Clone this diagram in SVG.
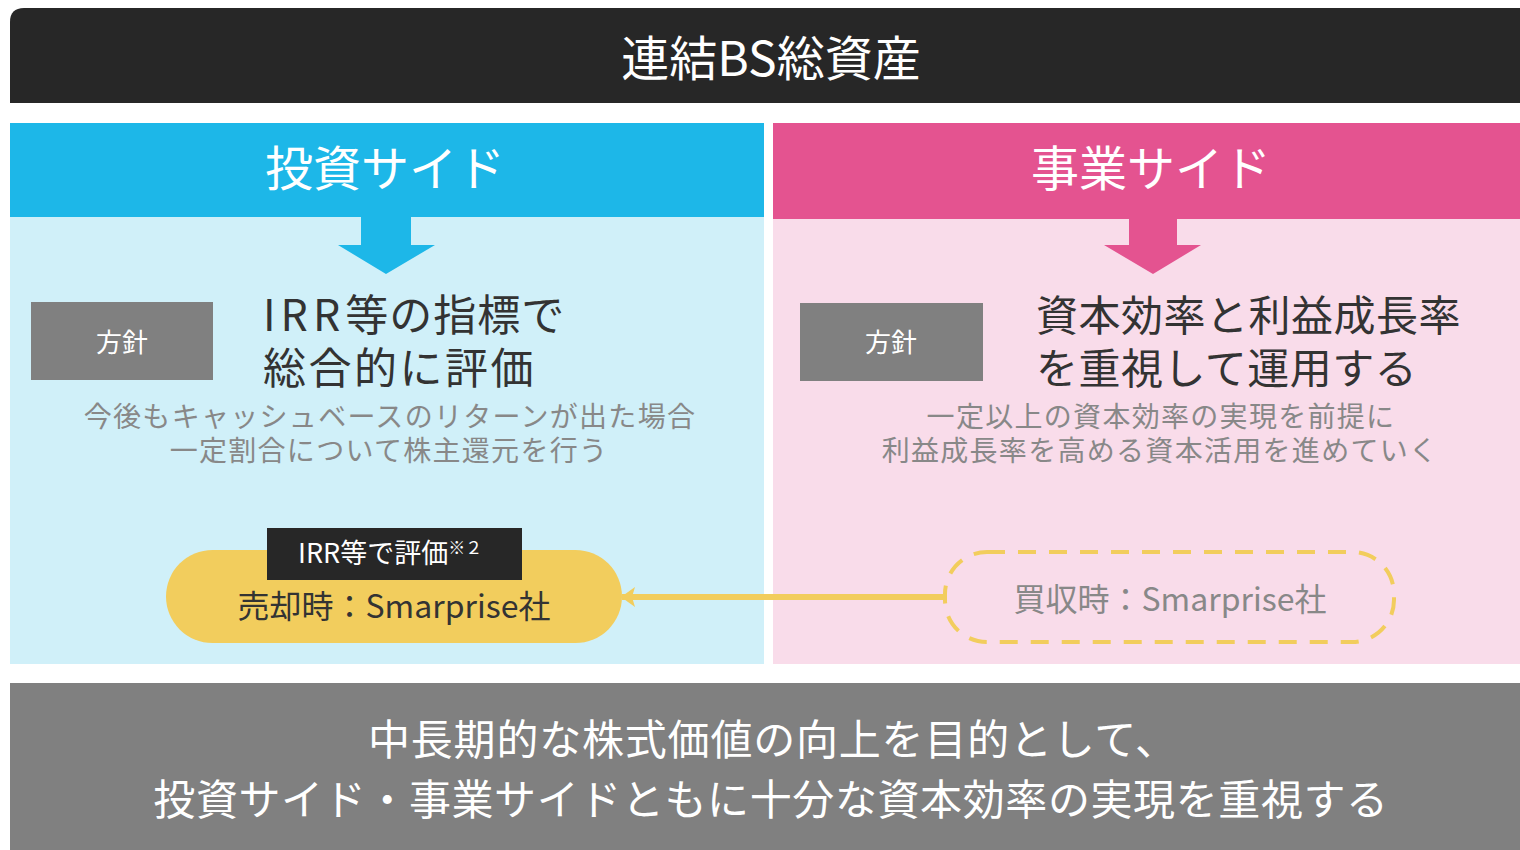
<svg xmlns="http://www.w3.org/2000/svg" width="1520" height="850" viewBox="0 0 1520 850">
<defs>
<style>
text{font-family:"Noto Sans CJK JP","Noto Sans",sans-serif;}
.w{fill:#ffffff;}
.d{fill:#333333;}
.g{fill:#888888;}
.c{text-anchor:middle;}
.sub{font-size:28px;letter-spacing:1.3px;}
</style>
<marker id="ah" markerWidth="14" markerHeight="20" refX="13" refY="10" orient="auto" markerUnits="userSpaceOnUse">
<path d="M0,0 L14,10 L0,20 L3,10 Z" fill="#F2CD5D"/>
</marker>
</defs>
<rect x="0" y="0" width="1520" height="850" fill="#ffffff"/>
<g id="title">
<path d="M24,8 H1520 V103 H10 V22 Q10,8 24,8 Z" fill="#272727"/>
<text class="w c" x="771" y="76" font-size="48">連結BS総資産</text>
</g>
<g id="invest">
<rect x="10" y="123" width="754" height="541" fill="#D0F0F9"/>
<rect x="10" y="123" width="754" height="94" fill="#1DB7E8"/>
<text class="w c" x="385" y="186" font-size="48">投資サイド</text>
<path d="M361,216 H411 V245 H435 L386,274 L338,245 H361 Z" fill="#1DB7E8"/>
<rect x="31" y="302" width="182" height="78" fill="#808080"/>
<text class="w c" x="122" y="352" font-size="26">方針</text>
<text class="d" x="263" y="331" font-size="43"><tspan letter-spacing="5">IRR</tspan><tspan letter-spacing="1">等の指標で</tspan></text>
<text class="d" x="263" y="384" font-size="43" letter-spacing="2.5">総合的に評価</text>
<text class="g c sub" x="390" y="427">今後もキャッシュベースのリターンが出た場合</text>
<text class="g c sub" x="389" y="461">一定割合について株主還元を行う</text>
</g>
<g id="business">
<rect x="773" y="123" width="747" height="541" fill="#F9DCEA"/>
<rect x="773" y="123" width="747" height="96" fill="#E45390"/>
<text class="w c" x="1151" y="186" font-size="48">事業サイド</text>
<path d="M1129,218 H1177 V245 H1201 L1153,274 L1104,245 H1129 Z" fill="#E45390"/>
<rect x="800" y="303" width="183" height="78" fill="#808080"/>
<text class="w c" x="891" y="352" font-size="26">方針</text>
<text class="d" x="1036" y="331" font-size="42" letter-spacing="0.5">資本効率と利益成長率</text>
<text class="d" x="1036" y="384" font-size="42" letter-spacing="0.5">を重視して運用する</text>
<text class="g c sub" x="1161" y="427">一定以上の資本効率の実現を前提に</text>
<text class="g c sub" x="1160" y="461">利益成長率を高める資本活用を進めていく</text>
</g>
<g id="connectors">
<line x1="943" y1="597" x2="622" y2="597" stroke="#F2CD5D" stroke-width="6" marker-end="url(#ah)"/>
</g>
<g id="sale">
<rect x="166" y="550" width="456" height="93" rx="46.5" fill="#F2CD5D"/>
<text class="d c" x="394" y="618" font-size="32">売却時：Smarprise社</text>
</g>
<g id="irr-label">
<rect x="267" y="528" width="255" height="52" fill="#272727"/>
<text class="w" x="298" y="563" font-size="27">IRR等で評価<tspan font-size="17" dy="-9">※２</tspan></text>
</g>
<g id="acquire">
<rect x="945" y="552" width="449" height="90" rx="42" fill="none" stroke="#F2CD5D" stroke-width="4" stroke-dasharray="18 13"/>
<text class="g c" x="1170" y="611" font-size="32">買収時：Smarprise社</text>
</g>
<g id="summary">
<rect x="10" y="683" width="1510" height="167" fill="#808080"/>
<text class="w" x="368" y="755" font-size="42" letter-spacing="0.8">中長期的な株式価値の向上を目的として、</text>
<text class="w c" x="771" y="815" font-size="42" letter-spacing="0.6">投資サイド・事業サイドともに十分な資本効率の実現を重視する</text>
</g>
</svg>
